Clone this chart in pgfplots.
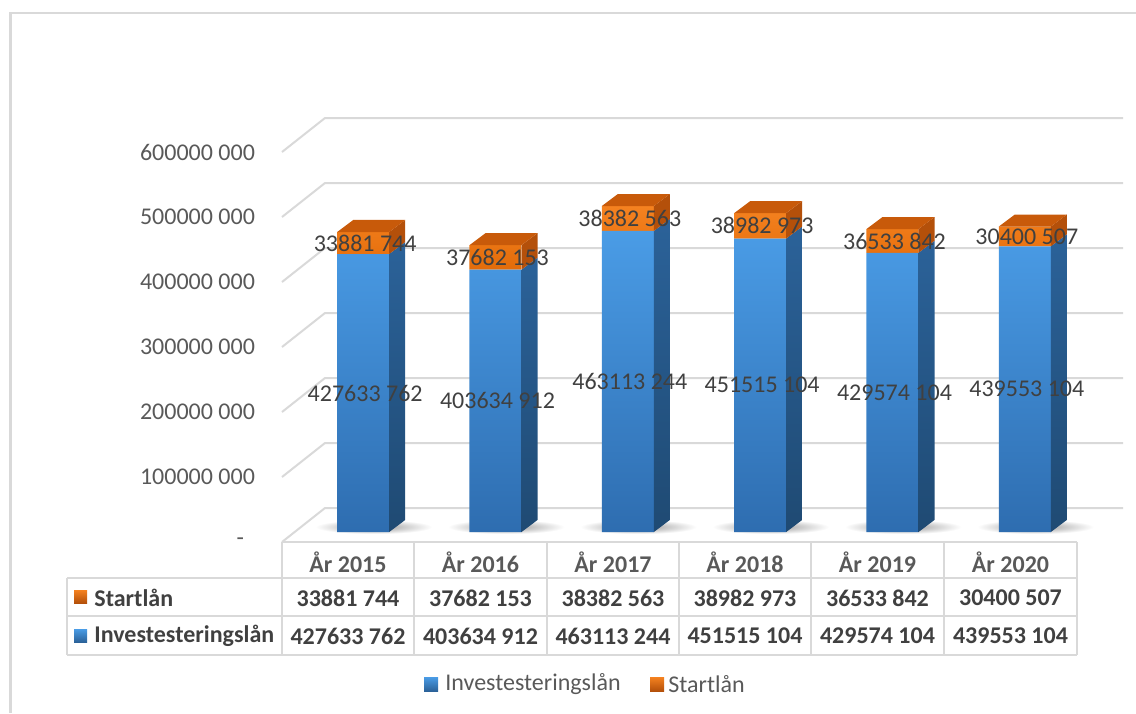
\documentclass[border=0pt]{standalone}
\usepackage{pgfplots}
\pgfplotsset{compat=1.18}
\usepackage{pgfplotstable}
\usepackage{fontspec}
\setmainfont{Carlito}
\definecolor{gridc}{HTML}{D9D9D9}
\definecolor{bluetop}{HTML}{4A9CE6}
\definecolor{bluebot}{HTML}{2E6DB0}
\definecolor{bluesidetop}{HTML}{2B6299}
\definecolor{bluesidebot}{HTML}{1F4A73}
\definecolor{orgtop}{HTML}{F58220}
\definecolor{orgbot}{HTML}{E36C0A}
\definecolor{orgside}{HTML}{B4500A}
\definecolor{orgcap}{HTML}{C85A0A}
\definecolor{txt}{HTML}{404040}
\definecolor{tickc}{HTML}{595959}

\pgfplotstableread[col sep=comma]{
x,inv,start,invlab,startlab
0,427633762,33881744,427633 762,33881 744
1,403634912,37682153,403634 912,37682 153
2,463113244,38382563,463113 244,38382 563
3,451515104,38982973,451515 104,38982 973
4,429574104,36533842,429574 104,36533 842
5,439553104,30400507,439553 104,30400 507
}\data

% side and top faces of one 3D bar: xr, xr2, xl, xl2, inv, inv+depth, total, total+depth
\newcommand\faces[8]{%
  \addplot[draw=none, top color=bluesidetop, bottom color=bluesidebot] coordinates {(#1,0) (#2,18500000) (#2,#6) (#1,#5)};
  \addplot[draw=none, fill=orgside] coordinates {(#1,#5) (#2,#6) (#2,#8) (#1,#7)};
  \addplot[draw=none, fill=orgcap] coordinates {(#3,#7) (#1,#7) (#2,#8) (#4,#8)};
}
% soft floor shadow below a bar: left x, right x
\newcommand\shadow[2]{%
  \addplot[draw=none, inner color=black!42, outer color=white] coordinates {(#1,-3000000) (#2,-3000000) (#2,19000000) (#1,19000000)};
}

\pgfplotsset{
  commonaxis/.style={
    at={(148.5pt,-266pt)}, anchor=south west,
    scale only axis, width=397pt, height=195pt,
    xmin=-0.5, xmax=5.5, ymin=0, ymax=600000000,
    clip=false,
  }
}

\begin{document}
\begin{tikzpicture}
\begin{scope}[x=0.5pt,y=-0.5pt]
  \path[use as bounding box] (0,0) rectangle (1136,713);
  % outer frame
  \draw[gridc, line width=1.1pt] (10.5,713) -- (10.5,13) -- (1136,13);
  % perspective gridlines (front plane -> back wall)
  \foreach \yf in {542,477,412,347,282,217,152}{
    \draw[gridc, line width=1pt] (282,\yf) -- (325,\yf-34) -- (1123,\yf-34);
  }
\end{scope}

\begin{axis}[commonaxis, hide axis]
  \shadow{-0.36}{0.52}
  \shadow{0.64}{1.52}
  \shadow{1.64}{2.52}
  \shadow{2.64}{3.52}
  \shadow{3.64}{4.52}
  \shadow{4.64}{5.52}
\end{axis}

\begin{scope}[x=0.5pt,y=-0.5pt]
  % data table
  \draw[gridc, line width=1pt] (282,542) -- (1077,542);
  \foreach \yy in {578,616,655}{ \draw[gridc, line width=1pt] (67,\yy) -- (1077,\yy); }
  \draw[gridc, line width=1pt] (67,578) -- (67,655);
  \foreach \xx in {282,414,547,679,811,944,1077}{ \draw[gridc, line width=1pt] (\xx,542) -- (\xx,655); }
\end{scope}

\begin{axis}[commonaxis,
  ybar stacked, bar width=26pt,
  axis line style={draw=none}, major tick length=0pt,
  xtick=\empty,
  ytick={0,100000000,200000000,300000000,400000000,500000000,600000000},
  yticklabels={{-\hspace*{5.5pt}},100000 000,200000 000,300000 000,400000 000,500000 000,600000 000},
  yticklabel style={font=\fontsize{12}{14}\selectfont, text=tickc, anchor=east, xshift=-17.5pt, yshift=-5pt},
  scaled y ticks=false,
]
  \addplot[draw=none, top color=bluetop, bottom color=bluebot] table[x=x, y=inv] {\data};
  \addplot[draw=none, top color=orgtop, bottom color=orgbot] table[x=x, y=start] {\data};
\end{axis}

\begin{axis}[commonaxis, hide axis]
  \faces{0.1965}{0.3175}{-0.1965}{-0.0755}{427633762}{446133762}{461515506}{480015506}
  \faces{1.1965}{1.3175}{0.8035}{0.9245}{403634912}{422134912}{441317065}{459817065}
  \faces{2.1965}{2.3175}{1.8035}{1.9245}{463113244}{481613244}{501495807}{519995807}
  \faces{3.1965}{3.3175}{2.8035}{2.9245}{451515104}{470015104}{490498077}{508998077}
  \faces{4.1965}{4.3175}{3.8035}{3.9245}{429574104}{448074104}{466107946}{484607946}
  \faces{5.1965}{5.3175}{4.8035}{4.9245}{439553104}{458053104}{469953611}{488453611}
  \addplot[only marks, mark=none, nodes near coords, point meta=explicit symbolic,
    nodes near coords style={anchor=center, font=\fontsize{12}{14}\selectfont, text=txt}]
    table[x expr=\thisrow{x}+0.015, y expr=\thisrow{inv}/2, meta=invlab] {\data};
  \addplot[only marks, mark=none, nodes near coords, point meta=explicit symbolic,
    nodes near coords style={anchor=center, font=\fontsize{12}{14}\selectfont, text=txt}]
    table[x expr=\thisrow{x}+0.015, y expr=\thisrow{inv}+\thisrow{start}/2, meta=startlab] {\data};
\end{axis}

\begin{scope}[x=0.5pt,y=-0.5pt]
  \tikzset{tcell/.style={font=\fontsize{12}{14}\selectfont\bfseries, text=txt, inner sep=0pt}}
  \foreach \cx/\yr in {348/2015,480.5/2016,613/2017,745/2018,877.5/2019,1010.5/2020}{
    \node[tcell, text=tickc] at (\cx,562) {År \yr};
  }
  \foreach \cx/\v in {348/{33881 744},480.5/{37682 153},613/{38382 563},745/{38982 973},877.5/{36533 842},1010.5/{30400 507}}{
    \node[tcell] at (\cx,598) {\v};
  }
  \foreach \cx/\v in {348/{427633 762},480.5/{403634 912},613/{463113 244},745/{451515 104},877.5/{429574 104},1010.5/{439553 104}}{
    \node[tcell] at (\cx,636) {\v};
  }
  \fill[top color=orgtop, bottom color=orgside] (74,590) rectangle (87,603);
  \fill[top color=bluetop, bottom color=bluesidetop] (74,629) rectangle (87,642);
  \node[tcell, anchor=west] at (94,598) {Startlån};
  \node[tcell, anchor=west] at (94,636) {Investesteringslån};
  % legend
  \fill[top color=bluetop, bottom color=bluesidetop] (424,677) rectangle (438,691);
  \node[font=\fontsize{12}{14}\selectfont, text=tickc, anchor=west, inner sep=0pt] at (445,684) {Investesteringslån};
  \fill[top color=orgtop, bottom color=orgside] (650,677) rectangle (664,691);
  \node[font=\fontsize{12}{14}\selectfont, text=tickc, anchor=west, inner sep=0pt] at (668,684) {Startlån};
\end{scope}
\end{tikzpicture}
\end{document}
